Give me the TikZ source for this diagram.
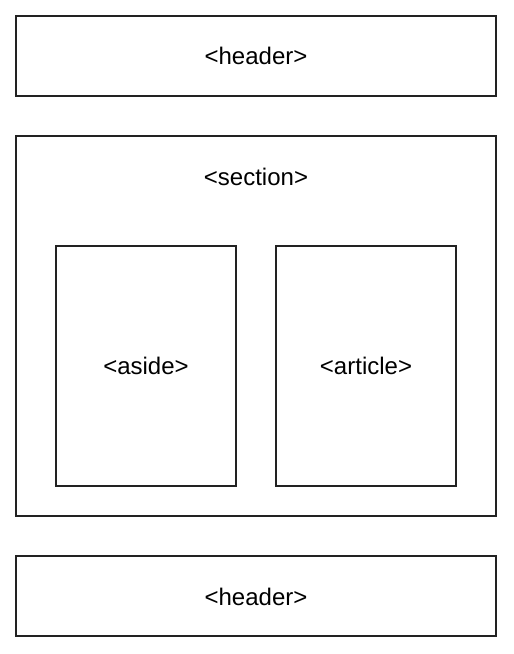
\documentclass[tikz,border=0pt]{standalone}
\usepackage{fontspec}
\setmainfont{Liberation Sans}
\usetikzlibrary{positioning}

\begin{document}
\begin{tikzpicture}[x=0.5pt,y=-0.5pt]
\definecolor{drawColor}{RGB}{34,34,34}
\tikzset{
  block/.style={draw=drawColor,line width=1pt,fill=white,inner sep=0pt,outer sep=0pt},
  tag/.style={text=black,inner sep=0pt,font=\fontsize{12}{14}\selectfont}
}
\path[use as bounding box,fill=white] (0,0) rectangle (514,654);

% top and bottom bars
\node[block,minimum width=240pt,minimum height=40pt] (header) at (256,56) {};
\node[block,minimum width=240pt,minimum height=40pt] (footer) at (256,596) {};

% section with two columns
\node[block,minimum width=240pt,minimum height=190pt] (section) at (256,326) {};
\node[block,minimum width=90pt,minimum height=120pt] (aside) at (146,366) {};
\node[block,minimum width=90pt,minimum height=120pt] (article) at (366,366) {};

\node[tag] (headertag) at (header.center) {<header>};
\node[tag] (footertag) at ([yshift=-0.5pt]footer.center) {<header>};
\node[tag] (sectiontag) at (256,177) {<section>};
\node[tag] (asidetag) at (aside.center) {<aside>};
\node[tag] (articletag) at (article.center) {<article>};
\end{tikzpicture}
\end{document}
